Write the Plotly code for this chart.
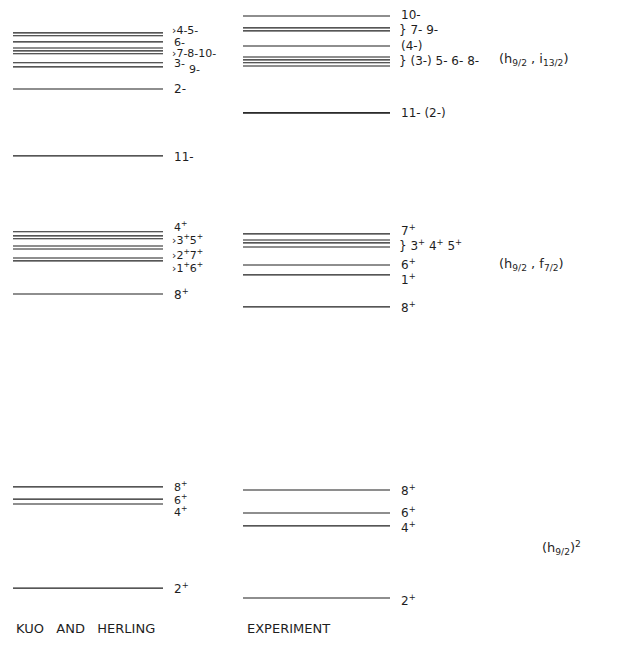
import re
import plotly.graph_objects as go

# ---- data: level energies (keV) ----
kh_jpi = ["4-", "5-", "6-", "7-", "8-", "10-", "3-", "9-", "2-", "11-",
          "4+", "3+", "5+", "2+", "7+", "1+", "6+", "8+",
          "8+", "6+", "4+", "2+"]
kh_energy = [3124, 3114, 3093, 3072, 3062, 3052, 3021, 3007, 2931, 2701,
             2440, 2426, 2416, 2391, 2381, 2350, 2340, 2226,
             1563, 1521, 1504, 1215]

exp_jpi = ["10-", "7-", "9-", "(4-)", "(3-)", "5-", "6-", "8-", "11-", "(2-)",
           "7+", "3+", "4+", "5+", "6+", "1+", "8+",
           "8+", "6+", "4+", "2+"]
exp_energy = [3182, 3141, 3131, 3079, 3041, 3031, 3021, 3010, 2849, 2849,
              2433, 2412, 2402, 2388, 2326, 2292, 2182,
              1552, 1473, 1429, 1181]

# label groups: member indices, bracket flag, vertical shift (px), font size
kh_groups = [([0, 1], True, 3.5, 11), ([2], False, -1, 11), ([3, 4, 5], True, -3, 11),
             ([6], False, -1, 11), ([7], False, -3, 11), ([8], False, 0, 12),
             ([9], False, -1, 12),
             ([10], False, 5, 11), ([11, 12], True, -2.5, 11), ([13, 14], True, -6.5, 11),
             ([15, 16], True, -8.5, 11), ([17], False, 0, 12),
             ([18], False, 0, 11), ([19], False, 0, 11), ([20], False, -7, 11),
             ([21], False, 0, 12)]
exp_groups = [([0], False, 1, 12), ([1, 2], True, -0.5, 12), ([3], False, 0, 12),
              ([4, 5, 6, 7], True, 0, 12), ([8, 9], False, 0, 12),
              ([10], False, 4, 12), ([11, 12, 13], True, -1.7, 12), ([14], False, 1, 12),
              ([15], False, -4, 12), ([16], False, 0, 12),
              ([17], False, 0, 12), ([18], False, 1, 12), ([19], False, -1, 12),
              ([20], False, -2, 12)]

config_labels = ["(h<sub>9/2</sub> , i<sub>13/2</sub>)",
                 "(h<sub>9/2</sub> , f<sub>7/2</sub>)",
                 "(h<sub>9/2</sub>)<sup>2</sup>"]
config_energy = [3031, 2326, 1352]
column_titles = ["KUO   AND   HERLING", "EXPERIMENT"]

# ---- layout constants ----
W, H = 617, 648
Y0, Y1 = 1009, 3237
KH_X = (13, 163)
EXP_X = (243, 390)
FONT = "DejaVu Sans"
INK = "#1e1e1e"


def fmt(jpi):
    return jpi.replace("+", "<sup>+</sup>")


def level_trace(xr, energies):
    xs, ys = [], []
    for e in energies:
        xs += [xr[0], xr[1], None]
        ys += [e, e, None]
    return go.Scatter(x=xs, y=ys, mode="lines", line=dict(color=INK, width=1.1),
                      hoverinfo="skip", showlegend=False)


fig = go.Figure()
fig.add_trace(level_trace(KH_X, kh_energy))
fig.add_trace(level_trace(EXP_X, exp_energy))

ann = []


def add_labels(groups, jpi, energies, x_line_end, sep, special_x=None):
    for gi, (idx, brace, shift, fs) in enumerate(groups):
        e = sum(energies[i] for i in idx) / len(idx)
        txt = sep.join(fmt(jpi[i]) for i in idx)
        if brace:
            txt = ("} " if sep == " " else "›") + txt
            x = x_line_end + 7
        else:
            x = x_line_end + 9
        if special_x and gi in special_x:
            x = special_x[gi]
        ann.append(dict(x=x, y=e, xref="x", yref="y", text=txt, showarrow=False,
                        xanchor="left", yanchor="middle", yshift=shift,
                        font=dict(family=FONT, size=fs, color=INK)))


add_labels(kh_groups, kh_jpi, kh_energy, KH_X[1], "", special_x={4: 187})
add_labels(exp_groups, exp_jpi, exp_energy, EXP_X[1], " ")

for t, e, xx in zip(config_labels, config_energy, [497, 497, 540]):
    ann.append(dict(x=xx, y=e, xref="x", yref="y", text=t, showarrow=False,
                    xanchor="left", yanchor="middle",
                    font=dict(family=FONT, size=13, color=INK)))

for t, xx in zip(column_titles, [14, 245]):
    ann.append(dict(x=xx, y=0, xref="x", yref="paper", text=t, showarrow=False,
                    xanchor="left", yanchor="bottom", yshift=10,
                    font=dict(family=FONT, size=13, color=INK)))

fig.update_layout(
    width=W, height=H, margin=dict(l=0, r=0, t=0, b=0),
    paper_bgcolor="white", plot_bgcolor="white",
    xaxis=dict(range=[0, W], visible=False, fixedrange=True),
    yaxis=dict(range=[Y0, Y1], visible=False, fixedrange=True),
    annotations=ann, showlegend=False,
)

fig.write_html("out.html")
